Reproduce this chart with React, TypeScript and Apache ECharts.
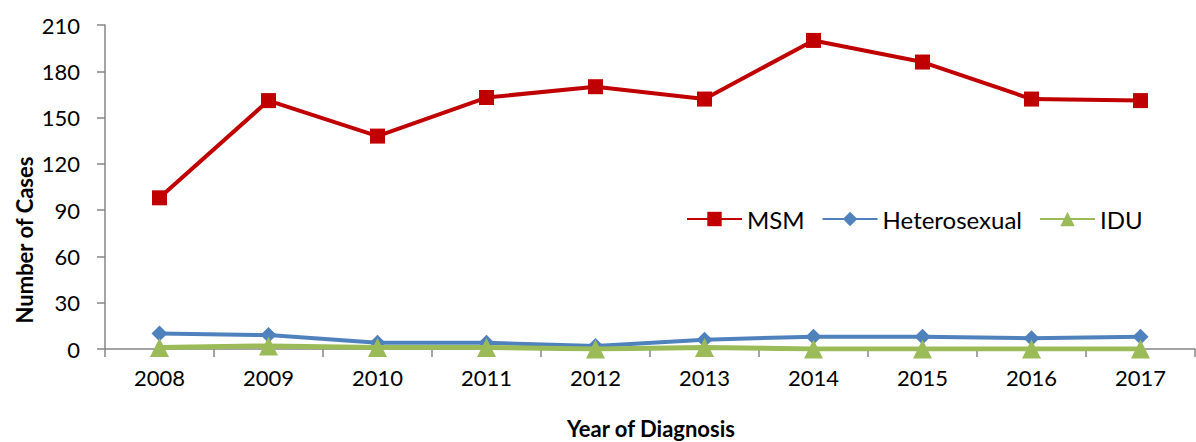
import React, { useEffect, useRef } from "react";
import * as echarts from "echarts";

const years = ["2008", "2009", "2010", "2011", "2012", "2013", "2014", "2015", "2016", "2017"];
const msm = [98, 161, 138, 163, 170, 162, 200, 186, 162, 161];
const hetero = [10, 9, 4, 4, 2, 6, 8, 8, 7, 8];
const idu = [1, 2, 1, 1, 0, 1, 0, 0, 0, 0];
const yTicks = [0, 30, 60, 90, 120, 150, 180, 210];

const FONT = "Lato, 'Open Sans', sans-serif";

export default function App() {
  const ref = useRef<HTMLDivElement>(null);
  useEffect(() => {
    if (!ref.current) return;
    const chart = echarts.init(ref.current, null, { renderer: "svg" });
    chart.setOption({
      animation: false,
      backgroundColor: "#ffffff",
      textStyle: { fontFamily: FONT },
      grid: { left: 105, right: 1, top: 25, bottom: 93, containLabel: false },
      legend: {
        left: 681,
        top: 202,
        itemWidth: 55,
        itemHeight: 18,
        itemGap: 17,
        textStyle: { fontSize: 24, color: "#000", fontFamily: FONT },
        data: ["MSM", "Heterosexual", "IDU"],
      },
      xAxis: {
        type: "category",
        data: years,
        boundaryGap: true,
        axisLine: { lineStyle: { color: "#868686", width: 1.5 } },
        axisTick: { show: true, length: 8, lineStyle: { color: "#868686", width: 1.5 } },
        axisLabel: { fontSize: 22, color: "#000", margin: 17, fontFamily: FONT },
      },
      yAxis: {
        type: "value",
        min: yTicks[0],
        max: yTicks[yTicks.length - 1],
        interval: 30,
        axisLine: { show: true, lineStyle: { color: "#868686", width: 1.5 } },
        axisTick: { show: true, length: 8, lineStyle: { color: "#868686", width: 1.5 } },
        splitLine: { show: false },
        axisLabel: { fontSize: 22, color: "#000", margin: 25, fontFamily: FONT },
      },
      graphic: [
        {
          type: "text",
          x: 24,
          y: 240,
          rotation: Math.PI / 2,
          style: {
            text: "Number of Cases",
            fill: "#000",
            font: "bold 22px " + FONT,
            align: "center",
            verticalAlign: "middle",
          },
        },
        {
          type: "text",
          x: 651,
          y: 428,
          style: {
            text: "Year of Diagnosis",
            fill: "#000",
            font: "bold 22px " + FONT,
            align: "center",
            verticalAlign: "middle",
          },
        },
      ],
      series: [
        {
          name: "MSM",
          type: "line",
          data: msm,
          symbol: "rect",
          symbolSize: 15,
          lineStyle: { color: "#C00000", width: 4 },
          itemStyle: { color: "#C00000" },
          z: 3,
        },
        {
          name: "Heterosexual",
          type: "line",
          data: hetero,
          symbol: "diamond",
          symbolSize: 16,
          lineStyle: { color: "#4F81BD", width: 4 },
          itemStyle: { color: "#4F81BD" },
          z: 2,
        },
        {
          name: "IDU",
          type: "line",
          data: idu,
          symbol: "triangle",
          symbolSize: [19, 19],
          lineStyle: { color: "#9BBB59", width: 5 },
          itemStyle: { color: "#9BBB59" },
          z: 4,
        },
      ],
    });
    return () => chart.dispose();
  }, []);
  return (
    <div
      ref={ref}
      style={{ position: "absolute", left: 0, top: 0, width: 1196, height: 442 }}
    />
  );
}
